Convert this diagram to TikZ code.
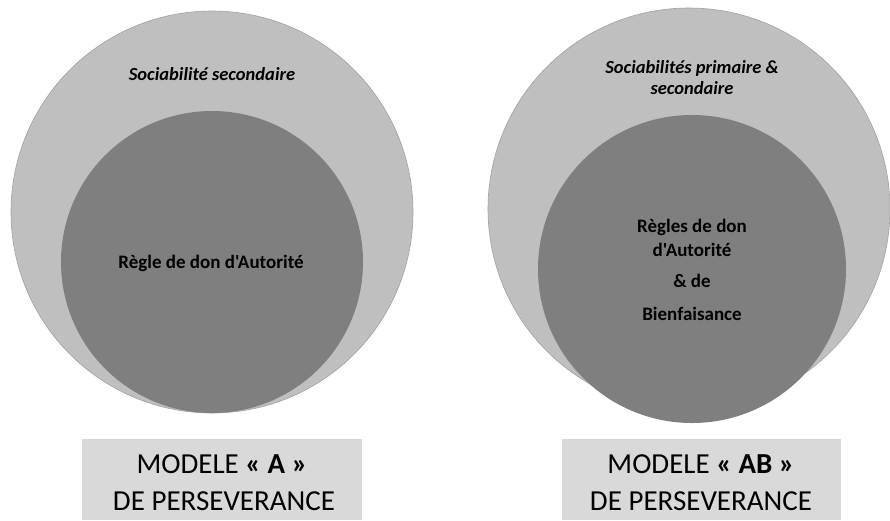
\documentclass[tikz,border=0pt]{standalone}
\usepackage{fontspec}
\setmainfont{Carlito}[Ligatures=TeXOff]
\definecolor{outerg}{HTML}{BFBFBF}
\definecolor{innerg}{HTML}{7F7F7F}
\definecolor{boxg}{HTML}{D9D9D9}
\begin{document}
\begin{tikzpicture}[x=1pt,y=-1pt,
  outerc/.style={fill=outerg,draw=outerg!85!black,line width=0.6pt},
  innerc/.style={fill=innerg},
  boxr/.style={fill=boxg},
  lbl/.style={anchor=base,inner sep=0pt,font=\fontsize{19}{22}\selectfont\bfseries},
  olbl/.style={anchor=base,inner sep=0pt,font=\fontsize{18.5}{21}\selectfont\bfseries\itshape},
  blbl/.style={anchor=base,inner sep=0pt,font=\fontsize{29}{35}\selectfont}]
\useasboundingbox (0,0) rectangle (890,520);
% left
\fill[outerc] (212,212) circle (201);
\fill[innerc] (212,262) circle (151);
\node[olbl] (ls) at (212,80) {Sociabilité secondaire};
\node[lbl] (lr) at (211,268) {Règle de don d'Autorité};
\fill[boxr] (82,439) rectangle (362,520);
\node[blbl] (la1) at (222,473) {MODELE \textbf{« A »}};
\node[blbl] (la2) at (224,510) {DE PERSEVERANCE};
% right
\fill[outerc] (689,209) circle (201);
\fill[innerc] (692,269) circle (154);
\node[olbl] (rs1) at (692,73) {Sociabilités primaire \&};
\node[olbl] (rs2) at (692,94) {secondaire};
\node[lbl] (rr1) at (692,232) {Règles de don};
\node[lbl] (rr2) at (692,256) {d'Autorité};
\node[lbl] (rr3) at (692,287) {\& de};
\node[lbl] (rr4) at (692,320) {Bienfaisance};
\fill[boxr] (562,439) rectangle (841,520);
\node[blbl] (ra1) at (701,473) {MODELE \textbf{« AB »}};
\node[blbl] (ra2) at (701,510) {DE PERSEVERANCE};
\end{tikzpicture}
\end{document}
